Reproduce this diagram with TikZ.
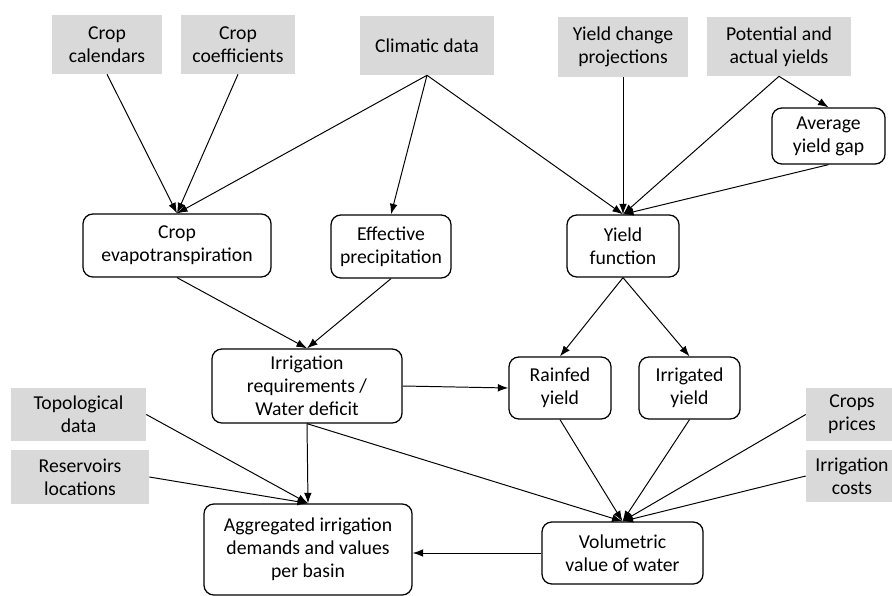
\documentclass[tikz,border=0pt]{standalone}
\usepackage{fontspec}
\setmainfont{Carlito}
\usepackage{tikz}
\usetikzlibrary{arrows.meta}
\definecolor{inputGray}{RGB}{217,217,217}

\begin{document}
\begin{tikzpicture}[x=0.025cm, y=-0.025cm,
		font=\fontsize{14pt}{16.5pt}\selectfont,
		>={Latex[length=7.5pt,width=5.5pt]}]
		\path[use as bounding box, clip] (0,0) rectangle (892,596);

		% Input data
		\begin{scope}[every node/.style={fill=inputGray,align=center,inner sep=0pt,minimum height=1.475cm}]
			\node (cal) at (107,44.5) [minimum width=2.75cm] {Crop\\calendars};
			\node (coef) at (238,44.5) [minimum width=2.85cm] {Crop\\coefficients};
			\node (clim) at (427,45.5) [minimum width=3.35cm] {Climatic data};
			\node (ychg) at (623,47) [minimum width=3.25cm, minimum height=1.5cm] {Yield change\\projections};
			\node (pot) at (779,46.5) [minimum width=3.6cm] {Potential and\\actual yields};
			\node (topo) at (78.5,414.5) [minimum width=3.375cm, minimum height=1.325cm] {Topological\\data};
			\node (resv) at (80,477) [minimum width=3.45cm, minimum height=1.35cm] {Reservoirs\\locations};
			\node (price) at (852,414.5) [minimum width=2.3cm, minimum height=1.325cm] {Crops\\prices};
			\node (cost) at (852,476) [minimum width=2.3cm, minimum height=1.3cm] {Irrigation\\costs};
		\end{scope}

		% Model steps
		\begin{scope}[every node/.style={draw,line width=0.9pt,rounded corners=7pt,align=center,inner sep=0pt,minimum height=1.55cm}]
			\node (gap) at (828.5,136) [minimum width=2.825cm, minimum height=1.4cm] {Average\\yield gap};
			\node (evap) at (177,245.5) [minimum width=4.7cm, minimum height=1.575cm] {Crop\\evapotranspiration};
			\node (effp) at (391,246.5) [minimum width=3cm, minimum height=1.575cm] {Effective\\precipitation};
			\node (yfun) at (623,246) [minimum width=2.8cm] {Yield\\function};
			\node (irrq) at (307,386) [minimum width=4.75cm, minimum height=1.85cm] {Irrigation\\requirements /\\Water deficit};
			\node (rain) at (560,388) [minimum width=2.55cm] {Rainfed\\yield};
			\node (irri) at (689.5,388) [minimum width=2.525cm] {Irrigated\\yield};
			\node (volw) at (622.5,553) [minimum width=4.025cm] {Volumetric\\value of water};
			\node (aggr) at (308,549.5) [minimum width=5.2cm, minimum height=2.275cm] {Aggregated irrigation\\demands and values\\per basin};
		\end{scope}

		% Arrows
		\begin{scope}[every edge/.style={draw,line width=0.7pt}]
			\path [->] (cal.south) edge (evap.north);
			\path [->] (coef.south) edge (evap.north);
			\path [->] (clim.south) edge (evap.north);
			\path [->] (clim.south) edge (effp.north);
			\path [->] (clim.south) edge (yfun.north);
			\path [->] (ychg.south) edge (yfun.north);
			\path [->] (pot.south) edge (yfun.north);
			\path [->] (pot.south) edge (gap.north);
			\path [->] (gap.south) edge (yfun.north);
			\path [->] (evap.south) edge (irrq.north);
			\path [->] (effp.south) edge (irrq.north);
			\path [->] (yfun.south) edge (rain.north);
			\path [->] (yfun.south) edge (irri.north);
			\path [->] (irrq.east) edge (rain.west);
			\path [->] (irrq.south) edge (aggr.north);
			\path [->] (irrq.south) edge (volw.north);
			\path [->] (topo.east) edge (aggr.north);
			\path [->] (resv.east) edge (aggr.north);
			\path [->] (rain.south) edge (volw.north);
			\path [->] (irri.south) edge (volw.north);
			\path [->] (price.west) edge (volw.north);
			\path [->] (cost.west) edge (volw.north);
			\path [->] (volw.west) edge (volw.west -| aggr.east);
		\end{scope}
	\end{tikzpicture}
\end{document}
